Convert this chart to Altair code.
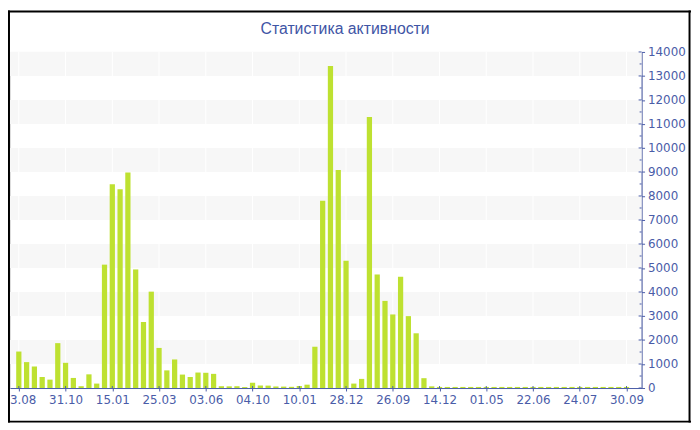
import altair as alt
import pandas as pd

# ---- data ----
values = [1520, 1080, 900, 460, 350, 1870, 1050, 420, 75, 570,
          185, 5140, 8490, 8280, 8975, 4940, 2750, 4015, 1670, 735,
          1190, 560, 460, 645, 635, 590, 75, 70, 75, 40,
          220, 105, 100, 65, 60, 50, 85, 140, 1720, 7800,
          13410, 9080, 5300, 185, 380, 11290, 4730, 3630, 3065, 4635,
          2995, 2280, 410, 70, 45, 45, 45, 45, 45, 45,
          45, 45, 45, 45, 45, 45, 45, 45, 45, 45,
          45, 45, 45, 45, 45, 45, 45, 45, 45]
x_labels = ["23.08", "31.10", "15.01", "25.03", "03.06", "04.10", "10.01",
            "28.12", "26.09", "14.12", "01.05", "22.06", "24.07", "30.09"]
label_step = 6
y_ticks = list(range(0, 15000, 1000))
band_lo = list(range(1000, 14000, 2000))
minor_ticks = list(range(500, 14000, 1000))
title_text = "Статистика активности"

W, H = 639, 340
BLUE = "#4a5ca8"
FONT = "DejaVu Sans"
TFONT = "Liberation Sans"

df = pd.DataFrame({"i": list(range(len(values))), "v": values})
tick_idx = [k * label_step for k in range(len(x_labels))]
grid_df = pd.DataFrame({"i": tick_idx})
band_df = pd.DataFrame({"lo": band_lo, "hi": [b + 1000 for b in band_lo]})
minor_df = pd.DataFrame({"m": minor_ticks})
major_df = pd.DataFrame({"m": y_ticks})
one = pd.DataFrame({"t": [title_text]})

label_expr = "[" + ",".join(f"'{l}'" for l in x_labels) + f"][round(datum.value/{label_step})]"

xscale = alt.Scale(domain=[-0.5, 79.3], nice=False, zero=False)
yscale = alt.Scale(domain=[0, 14000], nice=False)

x_axis = alt.Axis(orient="bottom", values=tick_idx, labelExpr=label_expr,
                  grid=False, domainColor=BLUE, tickColor=BLUE,
                  labelColor=BLUE, labelFont=FONT, labelFontSize=12,
                  tickSize=3, labelPadding=4, labelFlush=False,
                  labelOverlap=False, labelBound=False, title=None)
y_axis = alt.Axis(orient="right", values=y_ticks, format="d",
                  grid=False, domainColor=BLUE, tickColor=BLUE,
                  labelColor=BLUE, labelFont=FONT, labelFontSize=12,
                  tickSize=3, labelPadding=3, labelOverlap=False, title=None)

bands = alt.Chart(band_df).mark_rect(color="#f7f7f7").encode(
    x=alt.value(0), x2=alt.value(W),
    y=alt.Y("lo:Q", scale=yscale, axis=y_axis),
    y2="hi:Q",
)

vgrid = alt.Chart(grid_df).mark_rule(color="#ffffff", strokeWidth=1).encode(
    x=alt.X("i:Q", scale=xscale, axis=x_axis),
    y=alt.value(0), y2=alt.value(H),
)

bars = alt.Chart(df).mark_bar(size=5.3, color="#bee131").encode(
    x=alt.X("i:Q", scale=xscale, axis=x_axis),
    y=alt.Y("v:Q", scale=yscale, axis=y_axis),
)

# inner parts of the ticks (ticks cross the axis lines in the reference)
xtick_in = alt.Chart(grid_df).mark_rule(color=BLUE, strokeWidth=1).encode(
    x=alt.X("i:Q", scale=xscale, axis=x_axis),
    y=alt.value(H - 2), y2=alt.value(H),
)
ytick_in = alt.Chart(major_df).mark_rule(color=BLUE, strokeWidth=1).encode(
    y=alt.Y("m:Q", scale=yscale, axis=y_axis),
    x=alt.value(W - 3), x2=alt.value(W),
)
minor = alt.Chart(minor_df).mark_rule(color=BLUE, strokeWidth=1).encode(
    y=alt.Y("m:Q", scale=yscale, axis=y_axis),
    x=alt.value(W - 2), x2=alt.value(W),
)

title = alt.Chart(one).mark_text(font=TFONT, fontSize=16, color="#3f55a5",
                                 align="center", baseline="alphabetic").encode(
    text="t:N", x=alt.value(339), y=alt.value(-18.5))

bw = 2
border_right = alt.Chart(one).mark_rule(color="#000000", strokeWidth=bw).encode(
    x=alt.value(687.5), y=alt.value(-42), y2=alt.value(375))
border_bottom = alt.Chart(one).mark_rule(color="#000000", strokeWidth=bw).encode(
    y=alt.value(374), x=alt.value(-2), x2=alt.value(689))
border_left = alt.Chart(one).mark_rule(color="#000000", strokeWidth=bw).encode(
    x=alt.value(-1), y=alt.value(-42), y2=alt.value(375))
border_top = alt.Chart(one).mark_rule(color="#000000", strokeWidth=bw).encode(
    y=alt.value(-41), x=alt.value(-2), x2=alt.value(689))

chart = alt.layer(
    bands, vgrid, bars, xtick_in, ytick_in, minor, title,
    border_right, border_bottom, border_left, border_top,
).properties(
    width=W, height=H,
    autosize=alt.AutoSizeParams(type="none"),
    padding={"left": 2, "top": 42, "right": 51, "bottom": 40},
).configure_view(stroke=None).configure(background="#ffffff")

chart.save("out.html", embed_options={"renderer": "svg", "actions": False})
